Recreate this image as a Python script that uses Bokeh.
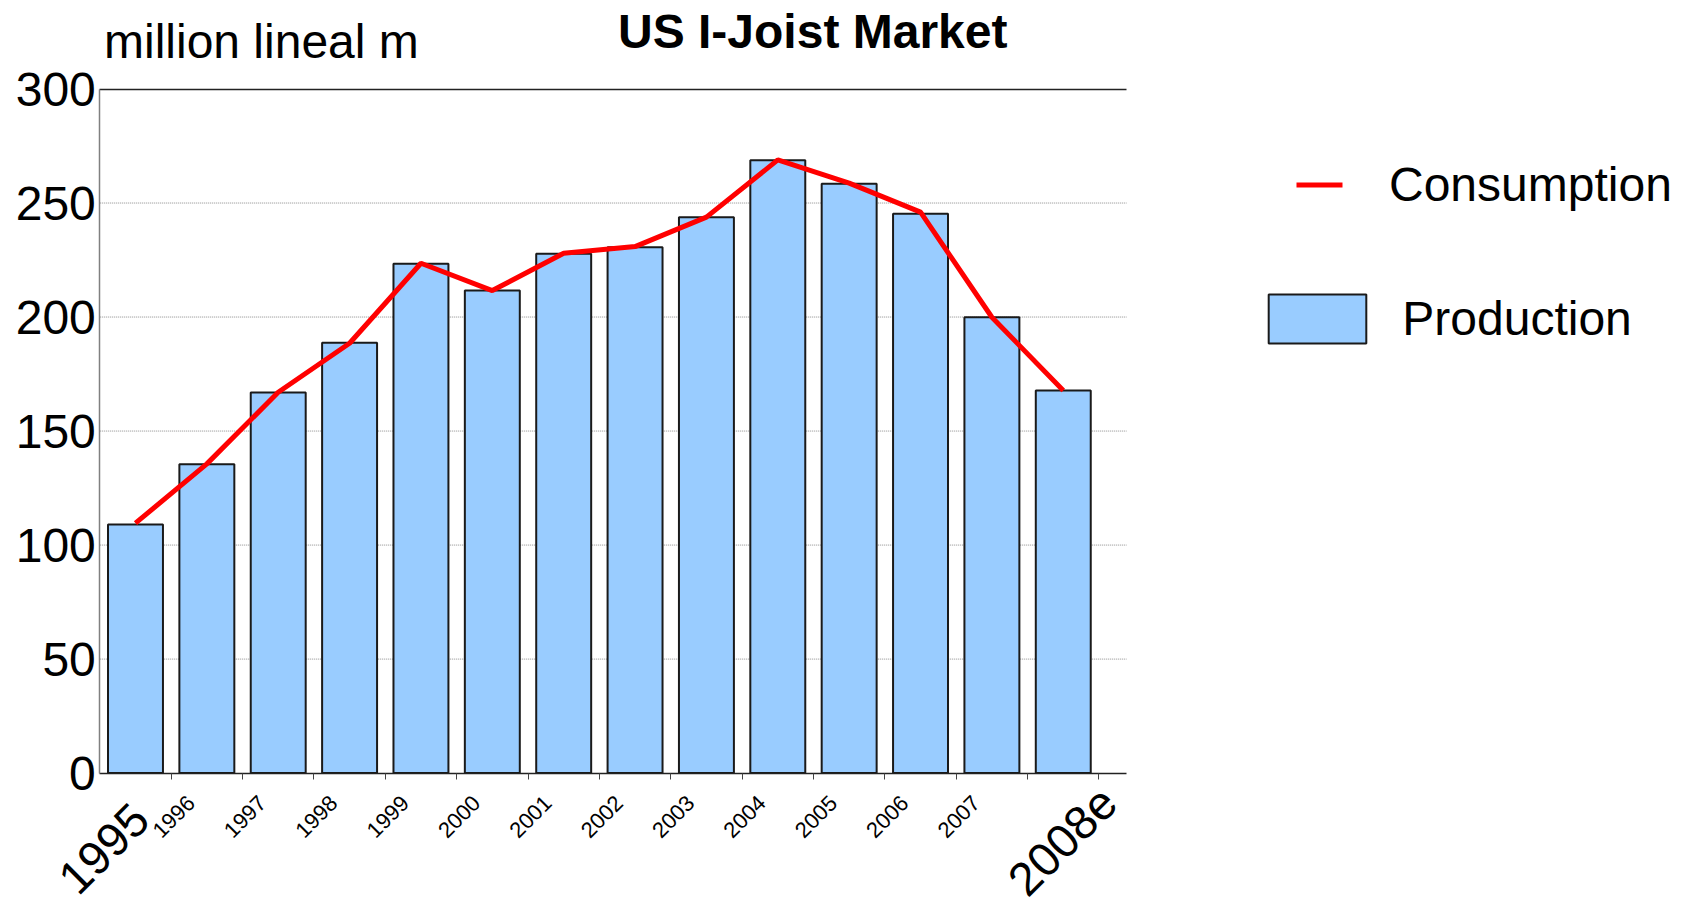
import math
from bokeh.plotting import figure
from bokeh.models import Range1d, FixedTicker, LinearAxis, Label, Legend, LegendItem
from bokeh.embed import file_html
from bokeh.resources import INLINE

# ---- data ----
years = ["1995", "1996", "1997", "1998", "1999", "2000", "2001",
         "2002", "2003", "2004", "2005", "2006", "2007", "2008e"]
production = [109.0, 135.4, 166.9, 188.7, 223.4, 211.6, 227.7,
              230.6, 243.8, 268.7, 258.4, 245.3, 199.9, 167.8]
consumption = [109.6, 135.6, 167.0, 188.5, 223.6, 211.6, 228.0,
               230.9, 243.8, 268.9, 258.7, 246.0, 199.9, 167.8]
y_ticks = [0, 50, 100, 150, 200, 250, 300]
title_text = "US I-Joist Market"
unit_text = "million lineal m"

FONT = "Liberation Sans"
n = len(years)
x_centers = [i + 0.5 for i in range(n)]

# ---- layout (pixels) ----
W, H = 1683, 905
PL, PR = 99.3, 1126.0          # plot area left/right (px)
PT, PB = 88.5, 772.6           # plot area top/bottom (px)
X_END = 14.386                 # data x at right edge of plot area
xpx = (PR - PL) / X_END
ypx = (PB - PT) / (y_ticks[-1] - y_ticks[0])
x_start = -PL / xpx
x_stop = x_start + W / xpx
y_stop = y_ticks[-1] + PT / ypx
y_start = y_stop - H / ypx

p = figure(width=W, height=H, output_backend="svg", toolbar_location=None,
           x_range=Range1d(x_start, x_stop), y_range=Range1d(y_start, y_stop),
           x_axis_location=None, y_axis_location=None,
           min_border=0, min_border_left=0, min_border_right=0,
           min_border_top=0, min_border_bottom=0)
p.outline_line_color = None
p.background_fill_color = "white"
p.border_fill_color = "white"
p.grid.visible = False

# grid lines (dotted), limited to the plot area
grid_vals = y_ticks[1:-1]
p.segment(x0=[0] * len(grid_vals), x1=[X_END] * len(grid_vals), y0=grid_vals, y1=grid_vals,
          line_color="#8c8c8c", line_dash="1 1", line_width=1)

# bars and line
bars = p.vbar(x=x_centers, top=production, bottom=0, width=0.77,
              fill_color="#99CCFF", line_color="#1a1a1a", line_width=2)
line = p.line(x=x_centers, y=consumption, line_color="#FF0000", line_width=5)

# y axis
yaxis = LinearAxis(fixed_location=0, bounds=(y_ticks[0], y_ticks[-1]),
                   ticker=FixedTicker(ticks=y_ticks))
yaxis.major_label_text_font = FONT
yaxis.major_label_text_font_size = "48px"
yaxis.major_label_text_color = "black"
yaxis.major_tick_out = 0
yaxis.major_tick_in = 0
yaxis.minor_tick_out = 0
yaxis.minor_tick_in = 0
yaxis.major_label_standoff = 4
yaxis.axis_line_color = "#808080"
yaxis.axis_line_width = 1.5
p.add_layout(yaxis, "left")

# x axis (tick labels drawn as labels below)
x_ticks = list(range(1, n + 1))
xaxis = LinearAxis(fixed_location=0, bounds=(0, X_END), ticker=FixedTicker(ticks=x_ticks))
xaxis.major_label_overrides = {t: "" for t in x_ticks}
xaxis.major_tick_out = 6
xaxis.major_tick_in = 0
xaxis.minor_tick_out = 0
xaxis.minor_tick_in = 0
xaxis.major_tick_line_color = "#444444"
xaxis.axis_line_color = "#222222"
xaxis.axis_line_width = 1.5
p.add_layout(xaxis, "below")

# top border line
top = LinearAxis(fixed_location=y_ticks[-1], bounds=(0, X_END), ticker=FixedTicker(ticks=[]))
top.major_tick_out = 0
top.major_tick_in = 0
top.minor_tick_out = 0
top.minor_tick_in = 0
top.axis_line_color = "#222222"
top.axis_line_width = 1.5
p.add_layout(top, "above")

# legend (a style-only line renderer gives the short centred legend dash)
legend_line = p.line(x=[float("nan")], y=[float("nan")], line_color="#FF0000",
                     line_width=5, line_dash="0 40 46 36")
legend = Legend(items=[LegendItem(label="Consumption", renderers=[legend_line]),
                       LegendItem(label=" Production", renderers=[bars])],
                location=(1256, H - 349), glyph_width=122, glyph_height=61, label_height=61,
                label_standoff=11, spacing=73, padding=0, margin=0,
                label_text_font=FONT, label_text_font_size="48px", label_text_color="black",
                border_line_color=None, background_fill_alpha=0)
p.add_layout(legend)

# x tick labels
for i, yr in enumerate(years):
    if i == 0:
        lab = Label(x=0.058, y=0, y_offset=-75.5, text=yr, angle=math.pi / 4,
                    text_align="center", text_baseline="middle",
                    text_font=FONT, text_font_size="47px", text_color="black")
    elif i == n - 1:
        lab = Label(x=13.49, y=0, y_offset=-68, text=yr, angle=math.pi / 4,
                    text_align="center", text_baseline="middle",
                    text_font=FONT, text_font_size="47px", text_color="black")
    else:
        lab = Label(x=i, y=0, x_offset=2.5, y_offset=-43.5, text=yr, angle=math.pi / 4,
                    text_align="center", text_baseline="middle",
                    text_font=FONT, text_font_size="22px", text_color="black")
    p.add_layout(lab)

# title texts
p.add_layout(Label(x=103.5, y=H - 59.3 + 18, x_units="screen", y_units="screen", text=unit_text,
                   text_font=FONT, text_font_size="48px", text_baseline="alphabetic",
                   text_color="black"))
p.add_layout(Label(x=617.5, y=H - 47.5 + 17, x_units="screen", y_units="screen", text=title_text,
                   text_font=FONT, text_font_size="48px", text_font_style="bold",
                   text_baseline="alphabetic", text_color="black"))

open("out.html", "w").write(file_html(p, INLINE))
